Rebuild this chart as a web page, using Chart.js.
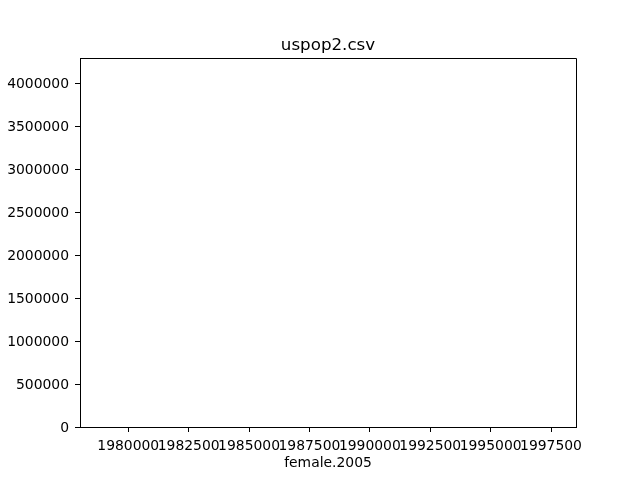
<!DOCTYPE html>
<html>
<head>
<meta charset="utf-8">
<script src="https://cdn.jsdelivr.net/npm/chart.js@4/dist/chart.umd.min.js"></script>
<style>
  html, body { margin: 0; padding: 0; background: #ffffff; }
  #wrap { width: 640px; height: 480px; }
</style>
</head>
<body>
<div id="wrap"><canvas id="c" width="640" height="480"></canvas></div>
<script>
// Data (the reference plot shows no visible marks)
const femaleValues = [];   // x values: female.2005
const counts = [];         // y values
const chartTitle = 'uspop2.csv';
const xLabel = 'female.2005';
const xRange = [1978002, 1998534];
const yRange = [0, 4295700];
const xTicks = [1980000, 1982500, 1985000, 1987500, 1990000, 1992500, 1995000, 1997500];
const yTicks = [0, 500000, 1000000, 1500000, 2000000, 2500000, 3000000, 3500000, 4000000];

const points = femaleValues.map((v, i) => ({ x: v, y: counts[i] }));

const FONT = 'DejaVu Sans';

const frame = {
  id: 'frame',
  afterDraw(chart) {
    const a = chart.chartArea, ctx = chart.ctx;
    const t = Math.round(a.top) + 0.5, r = Math.round(a.right) + 0.5, b = Math.round(a.bottom) + 0.5;
    ctx.save();
    ctx.strokeStyle = '#000';
    ctx.lineWidth = 1;
    ctx.beginPath();
    ctx.moveTo(Math.round(a.left), t);
    ctx.lineTo(r, t);
    ctx.lineTo(r, b);
    ctx.stroke();
    ctx.restore();
  }
};

new Chart(document.getElementById('c'), {
  type: 'scatter',
  data: {
    datasets: [{
      label: xLabel,
      data: points,
      backgroundColor: '#1f77b4',
      borderColor: '#1f77b4'
    }]
  },
  options: {
    responsive: false,
    animation: false,
    layout: { padding: { left: 0, right: 64, top: 0, bottom: 0 } },
    plugins: {
      legend: { display: false },
      tooltip: { enabled: false },
      title: {
        display: true,
        fullSize: false,
        text: chartTitle,
        color: '#000',
        font: { family: FONT, size: 16.7, weight: 'normal' },
        padding: { top: 35.5, bottom: 2.5 }
      }
    },
    scales: {
      x: {
        type: 'linear',
        min: xRange[0],
        max: xRange[1],
        afterBuildTicks(s) { s.ticks = xTicks.map(v => ({ value: v })); },
        afterFit(s) { s.height = 53; },
        border: { display: true, color: '#000', width: 1 },
        grid: { drawOnChartArea: false, color: '#000', tickColor: '#000', tickLength: 5, tickWidth: 1 },
        ticks: {
          autoSkip: false,
          maxRotation: 0,
          minRotation: 0,
          padding: 6,
          color: '#000',
          font: { family: FONT, size: 13.9 },
          callback: (v) => String(v)
        },
        title: {
          display: true,
          text: xLabel,
          color: '#000',
          font: { family: FONT, size: 13.9 },
          padding: { top: 0, bottom: 8 }
        }
      },
      y: {
        type: 'linear',
        min: yRange[0],
        max: yRange[1],
        afterBuildTicks(s) { s.ticks = yTicks.map(v => ({ value: v })); },
        afterFit(s) { s.width = 80; },
        border: { display: true, color: '#000', width: 1 },
        grid: { drawOnChartArea: false, color: '#000', tickColor: '#000', tickLength: 5, tickWidth: 1 },
        ticks: {
          autoSkip: false,
          padding: 6,
          labelOffset: 1,
          color: '#000',
          font: { family: FONT, size: 13.9 },
          callback: (v) => String(v)
        }
      }
    }
  },
  plugins: [frame]
});
</script>
</body>
</html>
